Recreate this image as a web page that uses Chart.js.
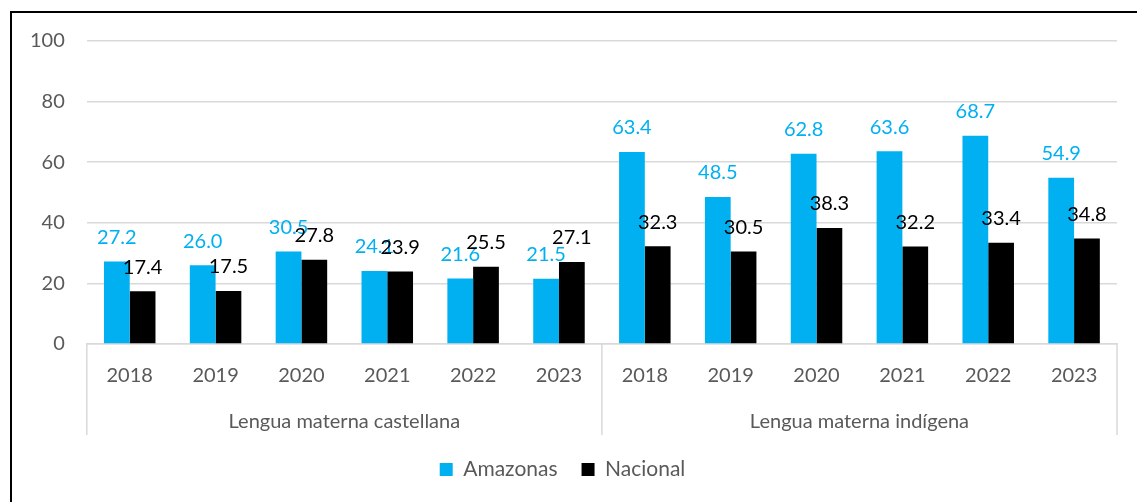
<!DOCTYPE html>
<html>
<head>
<meta charset="utf-8">
<script src="https://cdn.jsdelivr.net/npm/chart.js@4.4.1/dist/chart.umd.min.js"></script>
<style>
  body { margin: 0; background: #fff; }
  #wrap { position: relative; width: 1137px; height: 502px; overflow: hidden; }
  #frame { position: absolute; left: 10px; top: 11px; width: 1200px; height: 600px; border: 2px solid #000; }
  #chartCanvas { position: absolute; left: 0; top: 0; }
</style>
</head>
<body>
<div id="wrap">
  <div id="frame"></div>
  <canvas id="chartCanvas" width="1137" height="502"></canvas>
</div>
<script>
//data
const years = ["2018", "2019", "2020", "2021", "2022", "2023", "2018", "2019", "2020", "2021", "2022", "2023"];
const groups = ["Lengua materna castellana", "Lengua materna indígena"];
const amazonas = [27.2, 26.0, 30.5, 24.1, 21.6, 21.5, 63.4, 48.5, 62.8, 63.6, 68.7, 54.9];
const nacional = [17.4, 17.5, 27.8, 23.9, 25.5, 27.1, 32.3, 30.5, 38.3, 32.2, 33.4, 34.8];

const BLUE = "#00B0F0";
const GREY_TXT = "#595959";
const GRID = "#d9d9d9";
const FONT = "Lato";

//value labels above bars
const barLabels = {
  id: "barLabels",
  afterDatasetsDraw(chart) {
    const ctx = chart.ctx;
    ctx.save();
    ctx.font = "20px " + FONT;
    ctx.textAlign = "center";
    ctx.textBaseline = "middle";
    chart.data.datasets.forEach((ds, i) => {
      const meta = chart.getDatasetMeta(i);
      ctx.fillStyle = ds.labelColor;
      meta.data.forEach((bar, j) => {
        ctx.fillText(ds.data[j].toFixed(1), bar.x, bar.y - 24);
      });
    });
    ctx.restore();
  },
};

//separators of the two-level category axis
const groupLines = {
  id: "groupLines",
  afterDraw(chart) {
    const x = chart.scales.x;
    const x2 = chart.scales.x2;
    const mid = (x.getPixelForValue(5) + x.getPixelForValue(6)) / 2;
    const ctx = chart.ctx;
    ctx.save();
    ctx.strokeStyle = GRID;
    ctx.lineWidth = 1.5;
    [x.left, mid, x.right].forEach((px) => {
      ctx.beginPath();
      ctx.moveTo(px, x.top);
      ctx.lineTo(px, x2.bottom);
      ctx.stroke();
    });
    ctx.restore();
  },
};

const chart = new Chart(document.getElementById("chartCanvas"), {
  type: "bar",
  data: {
    labels: years,
    datasets: [
      {
        label: "Amazonas",
        data: amazonas,
        backgroundColor: BLUE,
        labelColor: BLUE,
        xAxisID: "x",
      },
      {
        label: "Nacional",
        data: nacional,
        backgroundColor: "#000000",
        labelColor: "#000000",
        xAxisID: "x",
      },
    ],
  },
  options: {
    responsive: false,
    animation: false,
    layout: { padding: { left: 8, right: 20, top: 41, bottom: 12 } },
    datasets: { bar: { categoryPercentage: 0.6, barPercentage: 1.0 } },
    plugins: {
      tooltip: { enabled: false },
      legend: {
        position: "bottom",
        labels: {
          color: GREY_TXT,
          font: { family: FONT, size: 21 },
          boxWidth: 13,
          boxHeight: 13,
          padding: 24,
        },
      },
    },
    scales: {
      x: {
        offset: true,
        grid: { display: false, drawTicks: false },
        border: { display: true, color: GRID, width: 1.5 },
        ticks: { color: GREY_TXT, font: { family: FONT, size: 20 }, padding: 20 },
        afterFit(s) { s.height = 58; },
      },
      x2: {
        type: "category",
        labels: groups,
        position: "bottom",
        offset: true,
        grid: { display: false, drawTicks: false },
        border: { display: false },
        ticks: { color: GREY_TXT, font: { family: FONT, size: 20 }, padding: 8 },
        afterFit(s) { s.height = 33; },
      },
      y: {
        min: 0,
        max: 100,
        ticks: { stepSize: 20, color: GREY_TXT, font: { family: FONT, size: 20 }, padding: 22 },
        grid: { color: GRID, lineWidth: 1.5, drawTicks: false },
        border: { display: false },
      },
    },
  },
  plugins: [barLabels, groupLines],
});
</script>
</body>
</html>
